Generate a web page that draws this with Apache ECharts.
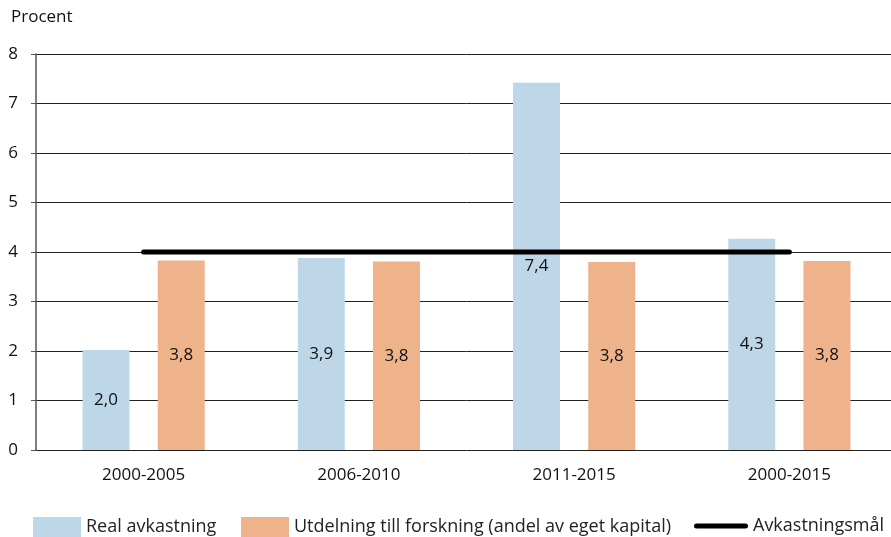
<!DOCTYPE html>
<html><head><meta charset="utf-8">
<script src="https://cdn.jsdelivr.net/npm/echarts@6/dist/echarts.min.js"></script>
<style>html,body{margin:0;padding:0;background:#fff;overflow:hidden;width:891px;height:537px}#c{width:897px;height:537px}</style>
</head><body><div id="c"></div>
<script>
const categories = ['2000-2005', '2006-2010', '2011-2015', '2000-2015'];
const realAvkastning = [2.02, 3.88, 7.42, 4.27];
const utdelning = [3.83, 3.81, 3.80, 3.82];
const avkastningsmal = [4, 4, 4, 4];
const yTicks = [0, 1, 2, 3, 4, 5, 6, 7, 8];

const FONT = 'Open Sans';
const chart = echarts.init(document.getElementById('c'));
const fmt = p => p.value.toFixed(1).replace('.', ',');
const legText = { fontSize: 18, color: '#222', fontFamily: FONT, padding: [7, 0, 0, 0] };
chart.setOption({
  animation: false,
  textStyle: { fontFamily: FONT },
  grid: { left: 36, right: 0, top: 54, bottom: 87, containLabel: false },
  title: { text: 'Procent', left: 11, top: 9, padding: 0, textStyle: { fontFamily: FONT, fontSize: 17, fontWeight: 'normal', color: '#111' } },
  legend: [
    { left: 33, top: 517, padding: 0, itemWidth: 48, itemHeight: 20, data: [{ name: 'Real avkastning', icon: 'rect' }], textStyle: legText },
    { left: 241, top: 517, padding: 0, itemWidth: 48, itemHeight: 20, data: [{ name: 'Utdelning till forskning (andel av eget kapital)', icon: 'rect' }], textStyle: legText },
    { left: 694, top: 517, padding: 0, itemWidth: 54, itemHeight: 20, data: [{ name: 'Avkastningsmål', icon: 'path://M2.5,7.5 L51.5,7.5 A2.5,2.5 0 0 1 51.5,12.5 L2.5,12.5 A2.5,2.5 0 0 1 2.5,7.5 Z' }], textStyle: legText }
  ],
  xAxis: {
    type: 'category', data: categories,
    axisLine: { show: false }, axisTick: { show: false },
    axisLabel: { color: '#111', fontSize: 17, margin: 17, fontFamily: FONT }
  },
  yAxis: {
    type: 'value', min: 0, max: 8, interval: 1,
    axisLine: { show: true, lineStyle: { color: '#555', width: 1.5 } },
    axisTick: { show: true, length: 5, lineStyle: { color: '#555' } },
    axisLabel: { color: '#111', fontSize: 17, margin: 18, fontFamily: FONT, formatter: v => yTicks.includes(v) ? String(v) : '' },
    splitLine: { lineStyle: { color: '#222', width: 1 } }
  },
  series: [
    { name: 'Real avkastning', type: 'bar', data: realAvkastning, barWidth: 47, barGap: '60%',
      itemStyle: { color: '#BDD7E9' },
      label: { show: true, position: 'inside', color: '#111', fontSize: 17, fontFamily: FONT, formatter: fmt } },
    { name: 'Utdelning till forskning (andel av eget kapital)', type: 'bar', data: utdelning, barWidth: 47,
      itemStyle: { color: '#EEB38A' },
      label: { show: true, position: 'inside', color: '#111', fontSize: 17, fontFamily: FONT, formatter: fmt } },
    { name: 'Avkastningsmål', type: 'line', data: avkastningsmal, showSymbol: false, symbol: 'none',
      lineStyle: { color: '#000', width: 5, cap: 'round' }, itemStyle: { color: '#000' }, z: 5 }
  ]
});
</script></body></html>
